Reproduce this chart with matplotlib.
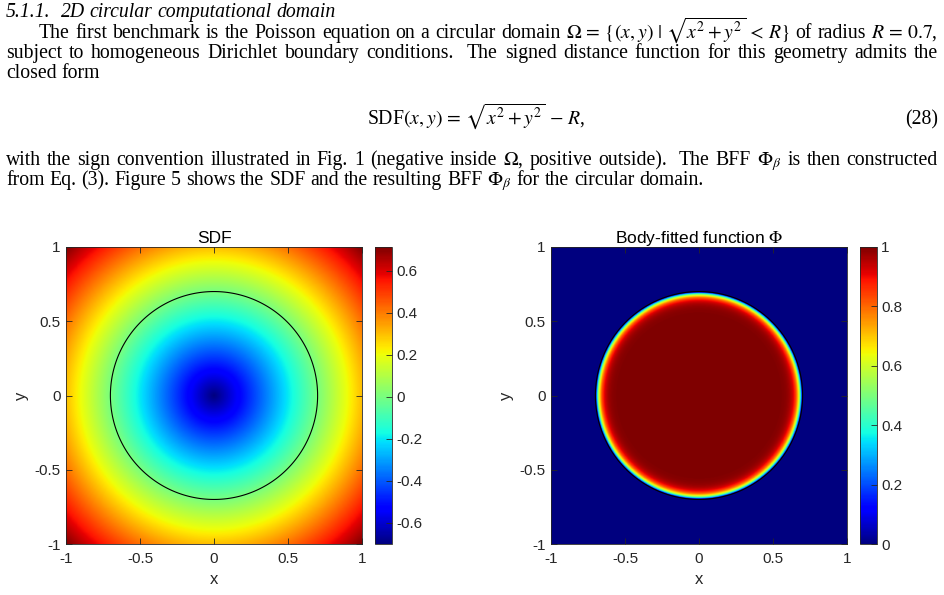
import re

import numpy as np
import matplotlib
matplotlib.use('Agg')
from matplotlib import pyplot as plt

plt.rcParams['font.family'] = ['Liberation Sans', 'DejaVu Sans']
plt.rcParams['mathtext.fontset'] = 'stix'
plt.rcParams['axes.unicode_minus'] = False

# geometry of the benchmark (circle of radius R) and BFF sharpness
R = 0.7
beta = 40.0
n_grid = 501

axis_ticks = [-1, -0.5, 0, 0.5, 1]
axis_tick_labels = ['-1', '-0.5', '0', '0.5', '1']
sdf_cbar_ticks = [-0.6, -0.4, -0.2, 0, 0.2, 0.4, 0.6]
sdf_cbar_labels = ['-0.6', '-0.4', '-0.2', '0', '0.2', '0.4', '0.6']
bff_cbar_ticks = [0, 0.2, 0.4, 0.6, 0.8, 1]
bff_cbar_labels = ['0', '0.2', '0.4', '0.6', '0.8', '1']

# page text above the figure
heading = '5.1.1.  2D circular computational domain'
para1 = [
    r'The first benchmark is the Poisson equation on a circular domain $\Omega\,=\,\{(x,y)\ |\ \sqrt{x^2+y^2}\,<\,R\}$ of radius $R\,=\,0.7$,',
    'subject to homogeneous Dirichlet boundary conditions.  The signed distance function for this geometry admits the',
    'closed form',
]
equation = r'SDF$(x,y)\,=\,\sqrt{x^2+y^2}\,-\,R$,'
eq_number = '(28)'
para2 = [
    r'with the sign convention illustrated in Fig. 1 (negative inside $\Omega$, positive outside).  The BFF $\Phi_\beta$ is then constructed',
    r'from Eq. (3). Figure 5 shows the SDF and the resulting BFF $\Phi_\beta$ for the circular domain.',
]

xs = np.linspace(-1, 1, n_grid)
X, Y = np.meshgrid(xs, xs)
sdf = np.sqrt(X**2 + Y**2) - R
bff = np.where(sdf < 0, 1 - np.exp(beta * sdf), 0.0)

W, H = 945, 595
fig = plt.figure(figsize=(W / 100, H / 100), dpi=100)


def box(l, t, r, b):
    return [l / W, 1 - b / H, (r - l) / W, (b - t) / H]


serif = ['Liberation Serif', 'DejaVu Serif']
fs = 14.2
renderer = fig.canvas.get_renderer()
space = fs * 100 / 72 * 0.25


def put_line(text, base, x0, x1=None, style='normal'):
    # words (math kept whole) and the number of spaces after each
    parts = [(m.group(1), len(m.group(2))) for m in
             re.finditer(r'((?:\$[^$]*\$|\S)+)(\s*)', text)]
    objs = [fig.text(0, 1 - base / H, w, family=serif, fontsize=fs, style=style,
                     va='baseline') for w, _ in parts]
    widths = [o.get_window_extent(renderer).width for o in objs]
    weights = [n for _, n in parts[:-1]]
    if x1 is None or len(parts) < 2:
        unit = space
    else:
        unit = (x1 - x0 - sum(widths)) / sum(weights)
    x = x0
    for i, (o, w) in enumerate(zip(objs, widths)):
        o.set_x(x / W)
        if i < len(weights):
            x += w + unit * weights[i]


LM, RM = 6, 938
put_line(heading, 17, LM, style='italic')
put_line(para1[0], 38, 39, RM)
put_line(para1[1], 58, LM, RM)
put_line(para1[2], 78, LM)
fig.text(476 / W, 1 - 124 / H, equation, family=serif, fontsize=fs, ha='center', va='baseline')
fig.text(RM / W, 1 - 124 / H, eq_number, family=serif, fontsize=fs, ha='right', va='baseline')
put_line(para2[0], 165, LM, RM)
put_line(para2[1], 185, LM)

gray = '0.15'


def style_axes(ax, title):
    ax.set_xlim(-1, 1)
    ax.set_ylim(-1, 1)
    ax.set_xticks(axis_ticks, axis_tick_labels)
    ax.set_yticks(axis_ticks, axis_tick_labels)
    ax.tick_params(direction='in', top=True, right=True, length=4, width=0.6,
                   labelsize=11, colors=gray)
    ax.tick_params(axis='x', pad=6)
    ax.tick_params(axis='y', pad=4)
    for s in ax.spines.values():
        s.set_color(gray)
        s.set_linewidth(0.6)
    ax.set_xlabel('x', fontsize=12, color=gray, labelpad=4)
    ax.set_ylabel('y', fontsize=12, color=gray, labelpad=4)
    ax.set_title(title, fontsize=12.5, pad=3)


def style_cbar(cb, ticks, labels):
    cb.set_ticks(ticks, labels=labels)
    cb.ax.tick_params(direction='in', length=4, width=0.6, labelsize=11, colors=gray, pad=3)
    cb.outline.set_edgecolor(gray)
    cb.outline.set_linewidth(0.6)


# SDF panel
ax1 = fig.add_axes(box(66, 247, 362, 544))
cax1 = fig.add_axes(box(375, 247, 392, 544))
im1 = ax1.imshow(sdf, extent=[-1, 1, -1, 1], origin='lower', cmap='jet',
                 vmin=-R, vmax=np.sqrt(2) - R, aspect='auto', interpolation='bilinear')
ax1.contour(X, Y, sdf, levels=[0], colors='k', linewidths=0.8)
style_axes(ax1, 'SDF')
cb1 = fig.colorbar(im1, cax=cax1)
style_cbar(cb1, sdf_cbar_ticks, sdf_cbar_labels)

# body-fitted function panel
ax2 = fig.add_axes(box(551, 247, 847, 544))
cax2 = fig.add_axes(box(860, 247, 877, 544))
im2 = ax2.imshow(bff, extent=[-1, 1, -1, 1], origin='lower', cmap='jet',
                 vmin=0, vmax=1, aspect='auto', interpolation='bilinear')
ax2.contour(X, Y, sdf, levels=[0], colors='k', linewidths=0.8)
style_axes(ax2, r'Body-fitted function $\Phi$')
cb2 = fig.colorbar(im2, cax=cax2)
style_cbar(cb2, bff_cbar_ticks, bff_cbar_labels)

fig.savefig('out.png', dpi=100)
